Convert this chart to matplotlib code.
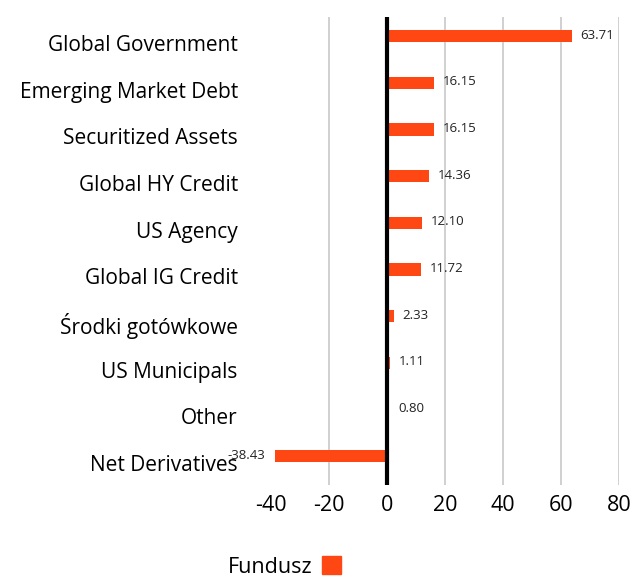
import matplotlib.pyplot as plt
import matplotlib.transforms as mtransforms
from matplotlib.patches import Patch

plt.rcParams['font.family'] = ['Open Sans', 'DejaVu Sans']

# data
categories = ["Global Government", "Emerging Market Debt", "Securitized Assets",
              "Global HY Credit", "US Agency", "Global IG Credit",
              "Środki gotówkowe", "US Municipals", "Other", "Net Derivatives"]
values = [63.71, 16.15, 16.15, 14.36, 12.10, 11.72, 2.33, 1.11, 0.80, -38.43]
xticks = [-40, -20, 0, 20, 40, 60, 80]

bar_color = "#FF4713"

fig = plt.figure(figsize=(6.3, 5.81), dpi=100)
ax = fig.add_axes([0.430, 0.1652, 0.5524, 0.8055])

ypos = list(range(len(categories)))[::-1]
ax.barh(ypos, values, height=0.26, color=bar_color, zorder=3)

ax.set_xlim(-40, 80)
ax.set_ylim(-0.62, 9.41)

# vertical grid, skip the -40 line
for t in xticks[1:]:
    if t == 0:
        continue
    ax.axvline(t, color="#c8c8c8", lw=1.2, zorder=1)
ax.axvline(0, color="black", lw=3, zorder=4)

for s in ax.spines.values():
    s.set_visible(False)

ax.set_xticks(xticks)
ax.set_xticklabels([str(t) for t in xticks], fontsize=15.5)
ax.tick_params(axis="x", length=0, pad=7)

ax.set_yticks(ypos)
ax.set_yticklabels(categories, fontsize=15)
ax.tick_params(axis="y", length=0, pad=23.8)
off = mtransforms.ScaledTranslation(0, -7 / 100, fig.dpi_scale_trans)
for lab in ax.get_yticklabels():
    lab.set_transform(lab.get_transform() + off)

# value labels
px = 120 / 348.0  # data units per pixel
for y, v in zip(ypos, values):
    if v >= 0:
        ax.text(v + 9 * px, y + 0.02, f"{v:.2f}", fontsize=9.5, ha="left",
                va="center", color="#222222")
    else:
        ax.text(v - 10 * px, y + 0.02, f"{v:.2f}", fontsize=9.5, ha="right",
                va="center", color="#222222")

handle = Patch(color=bar_color, label="Fundusz")
fig.legend(handles=[handle], loc="center", bbox_to_anchor=(0.4516, 0.024),
           frameon=False, markerfirst=False, fontsize=15.5,
           handlelength=0.9, handleheight=0.9, handletextpad=0.45)

fig.savefig("out.png", dpi=100)
